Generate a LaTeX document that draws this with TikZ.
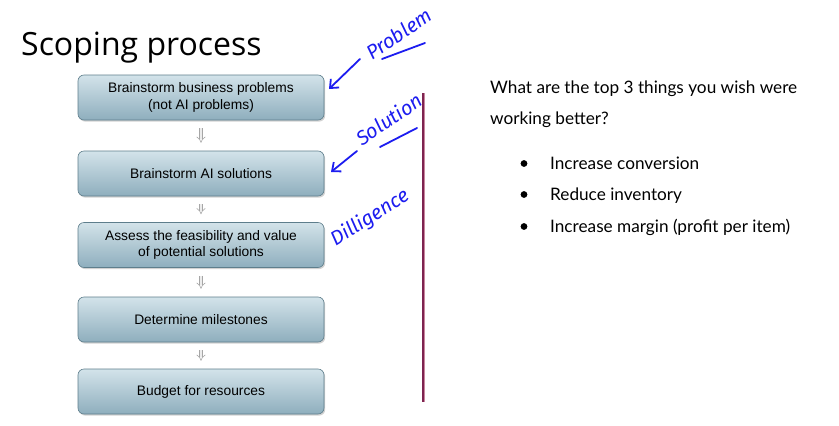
\documentclass[tikz,border=0pt]{standalone}
\usepackage{fontspec}
\setmainfont{Liberation Sans}
\newfontfamily\titlefont{Open Sans}
\newfontfamily\notefont{Lato}
\newfontfamily\handfont{Fira Sans}
\usetikzlibrary{arrows.meta,shadows,calc}
\definecolor{boxtop}{HTML}{D3E3EA}
\definecolor{boxbot}{HTML}{8EAEBD}
\definecolor{boxedge}{HTML}{5E7E8C}
\definecolor{ink}{HTML}{1C1CF0}
\definecolor{rulepink}{HTML}{C9869F}
\definecolor{rulemaroon}{HTML}{7E2450}
\tikzset{
  stepbox/.style={draw=boxedge, line width=0.6pt, rounded corners=6pt,
    top color=boxtop, bottom color=boxbot, minimum width=246pt,
    minimum height=45pt, align=center, inner sep=2pt,
    font=\fontsize{13.8}{16.5}\selectfont,
    drop shadow={shadow xshift=1.2pt, shadow yshift=-1.6pt, opacity=0.35, fill=gray}},
  flowarrow/.style={draw=gray!70, line width=0.6pt, double=gray!15,
    double distance=2.6pt, -{Implies[length=3.5pt]}},
  inkarrow/.style={ink, line width=1.8pt, line cap=round, line join=round,
    -{Straight Barb[length=7pt,width=12pt,line width=1.8pt]}},
  inkline/.style={ink, line width=1.8pt, line cap=round},
  inktext/.style={ink, font=\handfont\itshape\fontsize{20}{20}\selectfont, inner sep=0pt},
  notetext/.style={anchor=base west, inner sep=0pt, font=\notefont\fontsize{17.2}{17.2}\selectfont},
}
\begin{document}
\begin{tikzpicture}[x=1pt,y=-1pt]
  \useasboundingbox[fill=white] (0,0) rectangle (839,426);

  % title
  \node[anchor=base west, inner sep=0pt, font=\titlefont\fontsize{32}{32}\selectfont]
    (title) at (21,55) {Scoping process};

  % process boxes
  \node[stepbox] (b1) at (201,97.5) {Brainstorm business problems\\(not AI problems)};
  \node[stepbox] (b2) at (201,173.5) {Brainstorm AI solutions};
  \node[stepbox] (b3) at (201,245) {Assess the feasibility and value\\of potential solutions};
  \node[stepbox] (b4) at (201,319.5) {Determine milestones};
  \node[stepbox] (b5) at (201,391.5) {Budget for resources};

  % small arrows between steps
  \foreach \a/\b in {b1/b2,b2/b3,b3/b4,b4/b5}
    \draw[flowarrow] ([yshift=-8pt]\a.south) -- ([yshift=8pt]\b.north);

  % divider
  \coordinate (rtop) at (423,93);
  \coordinate (rbot) at (423,402);
  \draw[rulepink, line width=3pt] (rtop) -- (rbot);
  \draw[rulemaroon, line width=1.6pt] (rtop) -- (rbot);

  % handwritten notes
  \node[inktext, rotate=34] (prob) at (399,34) {Problem};
  \coordinate (pu1) at (382,59);
  \coordinate (pu2) at (425,43);
  \draw[inkline] (pu1) -- (pu2);
  \coordinate (pa1) at (360,59);
  \coordinate (pa2) at (329,89);
  \draw[inkarrow] (pa1) -- (pa2);

  \node[inktext, rotate=34] (sol) at (389,119) {Solution};
  \coordinate (su1) at (380,147);
  \coordinate (su2) at (417,128);
  \draw[inkline] (su1) -- (su2);
  \coordinate (sa1) at (357,151);
  \coordinate (sa2) at (331,172);
  \draw[inkarrow] (sa1) -- (sa2);

  \node[inktext, rotate=32] (dil) at (370,218) {Dilligence};

  % question and bullets
  \node[notetext] (q1) at (490,93) {What are the top 3 things you wish were};
  \node[notetext] (q2) at (490,124) {working better?};
  \foreach \t/\yy/\n in {Increase conversion/169/i1, Reduce inventory/200/i2,
      Increase margin (profit per item)/232/i3} {
    \fill (524,\yy-5.5) circle (3.4pt);
    \node[notetext] (\n) at (550,\yy) {\t};
  }
\end{tikzpicture}
\end{document}
